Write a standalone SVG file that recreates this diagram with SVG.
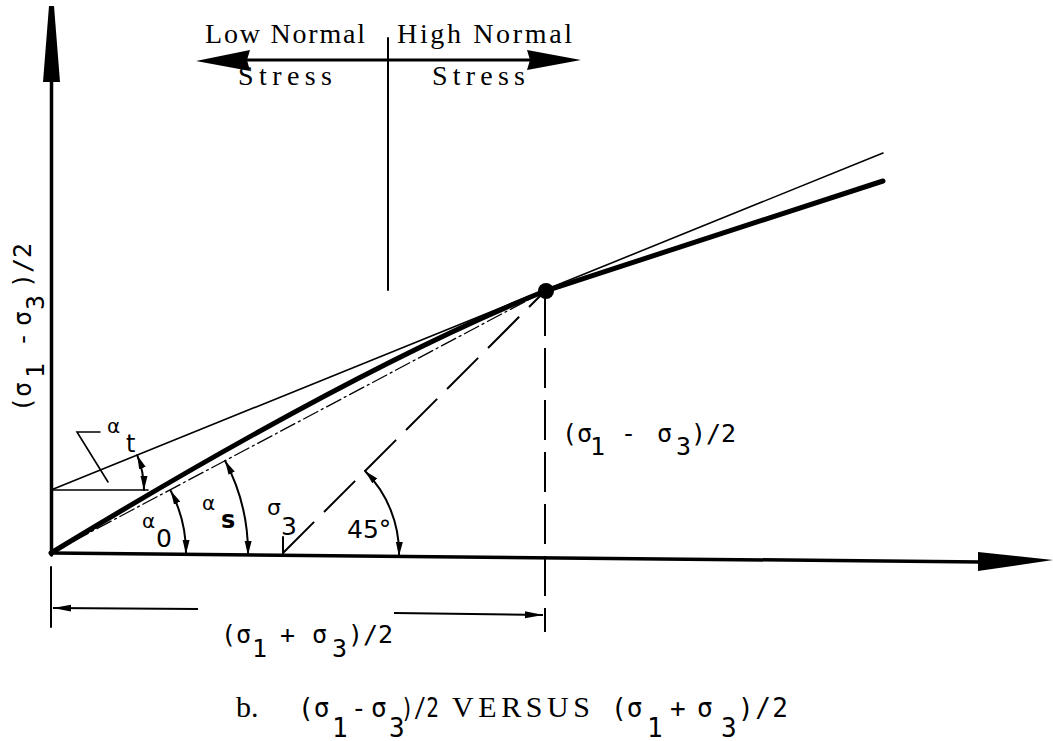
<svg xmlns="http://www.w3.org/2000/svg" width="1053" height="741" viewBox="0 0 1053 741">
<style>
.ln{stroke:#000;fill:none;stroke-linecap:round}
.tw{font-family:"Liberation Serif","DejaVu Serif",serif;font-size:28px;fill:#000}
.mt{font-family:"DejaVu Sans Mono","Liberation Mono",monospace;font-size:25px;fill:#000}
.cp{font-family:"DejaVu Sans Mono","Liberation Mono",monospace;font-size:26px;fill:#000}
.gk{font-family:"DejaVu Sans","Liberation Sans",sans-serif;fill:#000}
</style>
<defs>
<marker id="ah" viewBox="0 0 14 8" refX="14" refY="4" markerWidth="14" markerHeight="8" markerUnits="userSpaceOnUse" orient="auto-start-reverse">
<path d="M0,0.5 L14,4 L0,7.5 z" fill="#000"/>
</marker>
<marker id="dh" viewBox="0 0 18 8" refX="18" refY="4" markerWidth="18" markerHeight="8" markerUnits="userSpaceOnUse" orient="auto-start-reverse">
<path d="M0,0.5 L18,4 L0,7.5 z" fill="#000"/>
</marker>
</defs>
<rect width="1053" height="741" fill="#fff"/>

<g id="axes">
<line class="ln" x1="51.5" y1="80" x2="51.5" y2="555" stroke-width="3.5"/>
<polygon points="49,6 54,6 60,82 43,82" fill="#000"/>
<line class="ln" x1="51" y1="553" x2="982" y2="562" stroke-width="3.5"/>
<polygon points="978,552 1053,560 978,571" fill="#000"/>
</g>

<g id="stress-indicator">
<line class="ln" x1="388" y1="38" x2="388" y2="290" stroke-width="2"/>
<line class="ln" x1="240" y1="60" x2="535" y2="60" stroke-width="3"/>
<polygon points="196,61 250,50 247,60 250,71" fill="#000"/>
<polygon points="581,60 527,50 530,60 527,70" fill="#000"/>
<text class="tw" x="205" y="43" textLength="160" lengthAdjust="spacing">Low Normal</text>
<text class="tw" x="397" y="43" textLength="175" lengthAdjust="spacing">High Normal</text>
<text class="tw" x="238" y="85" textLength="94" lengthAdjust="spacing">Stress</text>
<text class="tw" x="432" y="85" textLength="93" lengthAdjust="spacing">Stress</text>
</g>

<g id="envelope">
<path class="ln" d="M51,553 Q353,369 545,291 L883,181" stroke-width="5"/>
<line class="ln" x1="51" y1="490" x2="883" y2="153" stroke-width="1.6"/>
<line class="ln" x1="51" y1="490" x2="148" y2="490" stroke-width="1.6"/>
<line class="ln" x1="51" y1="553" x2="545" y2="291" stroke-width="1.3" stroke-dasharray="16 4 2 4"/>
<circle cx="546" cy="291" r="8" fill="#000"/>
</g>

<g id="construction">
<line x1="283" y1="553" x2="545" y2="291" stroke="#000" stroke-width="2" stroke-dasharray="44 14"/>
<line x1="545" y1="296" x2="545" y2="632" stroke="#000" stroke-width="2" stroke-dasharray="40 12"/>
<line class="ln" x1="283" y1="537" x2="283" y2="555" stroke-width="2"/>
</g>

<g id="angles">
<path class="ln" d="M186,554 A135,135 0 0 0 170.7,490.7" stroke-width="2" marker-start="url(#ah)" marker-end="url(#ah)"/>
<path class="ln" d="M248,555 A197,197 0 0 0 225.1,460.8" stroke-width="2" marker-start="url(#ah)" marker-end="url(#ah)"/>
<path class="ln" d="M399,556 A116,116 0 0 0 365,471" stroke-width="2" marker-start="url(#ah)" marker-end="url(#ah)"/>
<path class="ln" d="M144,490 A93,93 0 0 0 137.2,455.2" stroke-width="2" marker-start="url(#ah)" marker-end="url(#ah)"/>
<polyline class="ln" points="100,432 77,432 108,482" stroke-width="1.6"/>
<text class="gk" font-size="20" x="107" y="433">α</text>
<text class="gk" font-size="24" x="126" y="452">t</text>
<text class="gk" font-size="20" x="142" y="528">α</text>
<text class="gk" font-size="25" x="156" y="547">0</text>
<text class="gk" font-size="20" x="202" y="510">α</text>
<text class="gk" font-size="24" x="221" y="528" font-weight="bold">s</text>
<text class="gk" font-size="22" x="267" y="515">σ</text>
<text class="gk" font-size="25" x="281" y="535">3</text>
<text class="gk" font-size="25" x="347" y="538">45°</text>
</g>

<g id="dimension">
<line class="ln" x1="51" y1="567" x2="51" y2="627" stroke-width="2"/>
<line x1="53" y1="608" x2="198" y2="609" stroke="#000" stroke-width="2" marker-start="url(#dh)"/>
<line x1="394" y1="613" x2="543" y2="615" stroke="#000" stroke-width="2" marker-end="url(#dh)"/>
<text class="mt"><tspan x="221" y="643">(σ</tspan><tspan x="252" y="657">1</tspan><tspan x="280" y="643">+</tspan><tspan x="312" y="643">σ</tspan><tspan x="332" y="657">3</tspan><tspan x="348" y="643">)/2</tspan></text>
</g>

<g id="labels">
<text class="mt"><tspan x="562" y="442">(σ</tspan><tspan x="590" y="455">1</tspan><tspan x="621" y="442">-</tspan><tspan x="657" y="442">σ</tspan><tspan x="676" y="455">3</tspan><tspan x="691" y="442">)/2</tspan></text>
<text class="mt" transform="translate(31,412) rotate(-90)"><tspan x="0" y="0">(σ</tspan><tspan x="34" y="13">1</tspan><tspan x="65" y="0">-</tspan><tspan x="86" y="0">σ</tspan><tspan x="102" y="13">3</tspan><tspan x="124" y="0">)/2</tspan></text>
</g>

<g id="caption">
<text class="tw" x="236" y="717" style="font-size:30px">b.</text>
<text class="cp"><tspan x="298" y="717">(σ</tspan><tspan x="332" y="737">1</tspan><tspan x="351" y="717">-</tspan><tspan x="371" y="717">σ</tspan><tspan x="389" y="737">3</tspan><tspan x="401" y="717" textLength="38" lengthAdjust="spacingAndGlyphs">)/2</tspan></text>
<text class="tw" x="452" y="717" style="font-size:30px" textLength="138" lengthAdjust="spacing">VERSUS</text>
<text class="cp"><tspan x="611" y="717">(σ</tspan><tspan x="647" y="737">1</tspan><tspan x="670" y="717">+</tspan><tspan x="697" y="717">σ</tspan><tspan x="721" y="737">3</tspan><tspan x="738" y="717" textLength="50" lengthAdjust="spacing">)/2</tspan></text>
</g>
</svg>
